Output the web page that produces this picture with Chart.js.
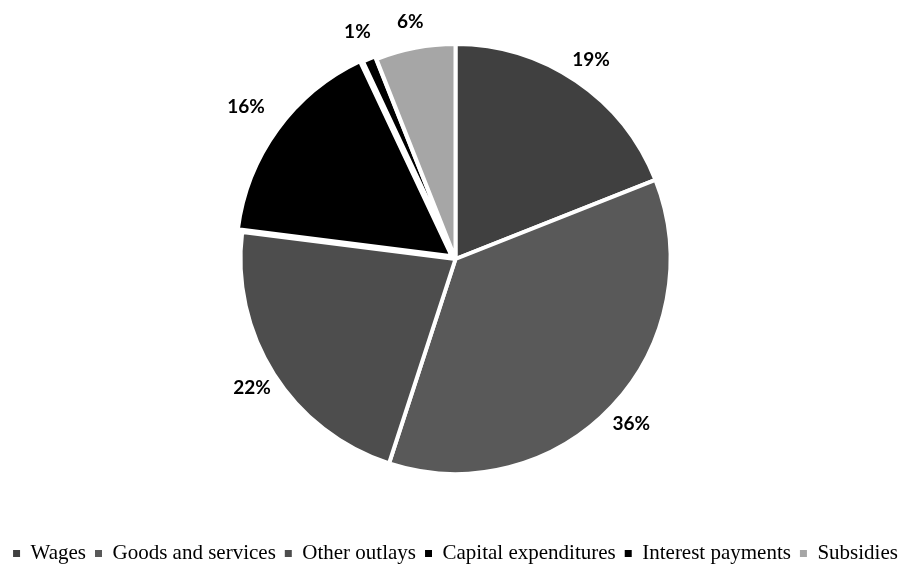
<!DOCTYPE html>
<html>
<head>
<meta charset="utf-8">
<script src="https://cdn.jsdelivr.net/npm/chart.js@4/dist/chart.umd.min.js"></script>
<style>
  html, body { margin: 0; padding: 0; background: #fff; }
  #wrap { width: 911px; height: 568px; }
</style>
</head>
<body>
<div id="wrap"><canvas id="gastoChart"></canvas></div>
<script>
const categorias = ['Wages', 'Goods and services', 'Other outlays', 'Capital expenditures', 'Interest payments', 'Subsidies'];
const porcentajes = [19, 36, 22, 16, 1, 6];
const colores = ['#404040', '#595959', '#4d4d4d', '#000000', '#000000', '#a6a6a6'];
const separacion = [0, 0, 0, 18, 6, 0];

// percentage labels placed just outside each slice
const etiquetasPlugin = {
    id: 'etiquetasPie',
    afterDatasetsDraw(chart) {
        const ctx = chart.ctx;
        const meta = chart.getDatasetMeta(0);
        ctx.save();
        ctx.font = 'bold 19px Lato, "Open Sans", sans-serif';
        ctx.fillStyle = '#000';
        ctx.textAlign = 'center';
        ctx.textBaseline = 'middle';
        meta.data.forEach(function(arc, i) {
            const p = arc.getProps(['x', 'y', 'startAngle', 'endAngle', 'outerRadius'], true);
            const mid = (p.startAngle + p.endAngle) / 2;
            const dist = p.outerRadius + (arc.options.offset || 0) + 26;
            const x = p.x + Math.cos(mid) * dist;
            const y = p.y + Math.sin(mid) * dist;
            ctx.fillText(porcentajes[i] + '%', x, y);
        });
        ctx.restore();
    }
};

new Chart(document.getElementById('gastoChart'), {
    type: 'pie',
    data: {
        labels: categorias,
        datasets: [{
            data: porcentajes,
            backgroundColor: colores,
            borderColor: '#ffffff',
            borderWidth: 4,
            offset: separacion
        }]
    },
    options: {
        responsive: true,
        maintainAspectRatio: false,
        animation: false,
        radius: 215,
        layout: {
            padding: { top: 0, bottom: -6 }
        },
        plugins: {
            legend: {
                position: 'bottom',
                // blank title only adds room between pie and legend
                title: {
                    display: true,
                    text: ' ',
                    color: 'rgba(0,0,0,0)',
                    font: { size: 10 },
                    padding: { top: 2, bottom: 2 }
                },
                labels: {
                    boxWidth: 7,
                    boxHeight: 7,
                    padding: 9,
                    color: '#000',
                    font: {
                        family: '"Liberation Serif", "Times New Roman", serif',
                        size: 21
                    },
                    generateLabels: function(chart) {
                        const base = Chart.overrides.pie.plugins.legend.labels.generateLabels(chart);
                        return base.map(function(item) {
                            item.lineWidth = 0;
                            item.strokeStyle = item.fillStyle;
                            return item;
                        });
                    }
                }
            },
            tooltip: { enabled: false }
        }
    },
    plugins: [etiquetasPlugin]
});
</script>
</body>
</html>
